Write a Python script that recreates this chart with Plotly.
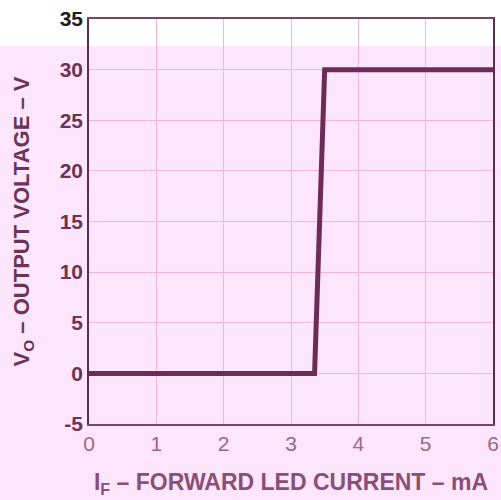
import plotly.graph_objects as go

# Data
current_mA = [0, 3.35, 3.5, 6]
output_v = [0, 0, 30, 30]
x_ticks = [0, 1, 2, 3, 4, 5, 6]
y_ticks = [-5, 0, 5, 10, 15, 20, 25, 30, 35]
y_ticktext = ["-5", "0", "5", "10", "15", "20", "25", "30", '<span style="color:#1e1a1c">35</span>']

fig = go.Figure()
fig.add_trace(go.Scatter(x=current_mA, y=output_v, mode="lines",
                         line=dict(color="#6c2c57", width=5), hoverinfo="skip"))

# white band at top of page (scan artefact)
fig.add_shape(type="rect", xref="paper", yref="paper", x0=-1, x1=1.5,
              y0=(424-46)/405, y1=1.5, fillcolor="white", line_width=0, layer="below")

fig.update_layout(
    width=501, height=500,
    margin=dict(l=89, r=8, t=19, b=76),
    paper_bgcolor="#fde5fb", plot_bgcolor="rgba(0,0,0,0)",
    showlegend=False,
    font=dict(family="Liberation Sans, Arial, sans-serif"),
    xaxis=dict(range=[0, 6], tickvals=x_ticks, showgrid=True, gridcolor="#f2b4dc", gridwidth=1,
               showline=True, linecolor="#7a4468", linewidth=1.5, mirror=True,
               ticks="", zeroline=False, automargin=False,
               tickfont=dict(size=21, color="#9a6888"),
               title=dict(text="I<sub>F</sub> – FORWARD LED CURRENT – mA",
                          font=dict(size=23, color="#8a4f78", weight="bold"), standoff=20)),
    yaxis=dict(range=[-5, 35], tickvals=y_ticks, ticktext=y_ticktext,
               showgrid=True, gridcolor="#f2b4dc", gridwidth=1,
               showline=True, linecolor="#5a2e4c", linewidth=1.5, mirror=True,
               ticks="", zeroline=False, automargin=False,
               tickfont=dict(size=21, color="#6a3358", weight="bold"),
               title=dict(text="V<sub>O</sub> – OUTPUT VOLTAGE – V",
                          font=dict(size=22, color="#6a3358", weight="bold"), standoff=24)),
)

fig.write_html("out.html", config={"displayModeBar": False},
               post_script="document.body.style.margin='0';document.body.style.background='#fde5fb';")
